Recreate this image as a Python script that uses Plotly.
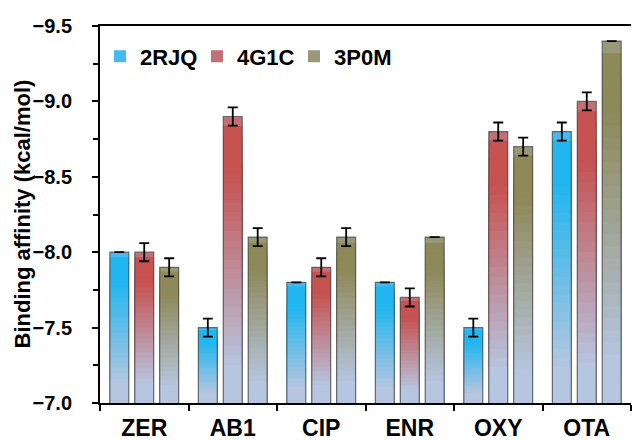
import plotly.graph_objects as go

categories = ["ZER", "AB1", "CIP", "ENR", "OXY", "OTA"]
series_names = ["2RJQ", "4G1C", "3P0M"]
vals_2rjq = [-8.0, -7.5, -7.8, -7.8, -7.5, -8.8]
vals_4g1c = [-8.0, -8.9, -7.9, -7.7, -8.8, -9.0]
vals_3p0m = [-7.9, -8.1, -8.1, -8.1, -8.7, -9.4]
err_2rjq = [0.0, 0.06, 0.0, 0.0, 0.06, 0.06]
err_4g1c = [0.06, 0.06, 0.06, 0.06, 0.06, 0.06]
err_3p0m = [0.06, 0.06, 0.06, 0.0, 0.06, 0.0]
y_title = "Binding affinity (kcal/mol)"

top_colors = [(33, 182, 240), (198, 82, 82), (142, 137, 88)]
bottom_color = (182, 198, 224)
BASE = -7.0
N_LAYERS = 30

series_vals = [vals_2rjq, vals_4g1c, vals_3p0m]
series_err = [err_2rjq, err_4g1c, err_3p0m]


def mix(c1, c2, t):
    return "rgb(%d,%d,%d)" % tuple(round(a + (b - a) * t) for a, b in zip(c1, c2))


fig = go.Figure()
font_family = "Liberation Sans, Arial, sans-serif"

for name, vals, errs, tc in zip(series_names, series_vals, series_err, top_colors):
    # gradient rendering layers (full bar first, then shorter, lighter ones on top)
    for k in range(N_LAYERS):
        f = 1 - k / N_LAYERS
        p = f - 0.5 / N_LAYERS
        s = min(1.0, max(0.0, (p - 0.12) / 0.68))
        col = mix(bottom_color, tc, s)
        fig.add_trace(go.Bar(
            x=categories,
            y=[BASE + (v - BASE) * f for v in vals],
            name=name,
            legendgroup=name,
            showlegend=(k == 0),
            offsetgroup=name,
            marker=dict(color=mix(bottom_color, tc, 0.75) if k == 0 else col, line=dict(width=0)),
            hoverinfo="skip",
        ))
    # outline + error bars
    fig.add_trace(go.Bar(
        x=categories,
        y=vals,
        name=name,
        legendgroup=name,
        showlegend=False,
        offsetgroup=name,
        marker=dict(color="rgba(0,0,0,0)", line=dict(color="rgba(70,70,70,0.75)", width=1.2)),
        error_y=dict(type="data", array=errs, visible=True, color="black", thickness=1.8, width=5),
    ))

fig.update_layout(
    width=632,
    height=440,
    margin=dict(l=100, r=1, t=26, b=37),
    barmode="group",
    bargap=0.155,
    bargroupgap=0.24,
    plot_bgcolor="white",
    paper_bgcolor="white",
    font=dict(family=font_family, color="black"),
    legend=dict(
        orientation="h",
        x=0.0, xanchor="left",
        y=0.919, yanchor="middle",
        font=dict(size=22, family=font_family, weight="bold"),
        itemwidth=30,
        entrywidth=52,
        bgcolor="rgba(0,0,0,0)",
        traceorder="normal",
    ),
    showlegend=True,
    annotations=[dict(
        text=y_title, textangle=-90,
        xref="paper", yref="paper", x=0, y=0.5, xshift=-78,
        xanchor="center", yanchor="middle", showarrow=False,
        font=dict(size=22, family=font_family, weight="bold", color="black"),
    )],
)

fig.update_xaxes(
    type="category",
    automargin=False,
    showline=True, linecolor="black", linewidth=2, mirror=True,
    ticks="outside", ticklen=6, tickwidth=2, tickcolor="black",
    tickson="boundaries",
    ticklabelstandoff=3,
    tickfont=dict(size=23, family=font_family, weight="bold"),
    showgrid=False,
)
fig.update_yaxes(
    range=[-7.0, -9.5],
    automargin=False,
    tick0=-9.5, dtick=0.5, tickformat=".1f",
    showline=True, linecolor="black", linewidth=2,
    ticks="outside", ticklen=6, tickwidth=2, tickcolor="black",
    minor=dict(dtick=0.25, ticks="outside", ticklen=5, tickwidth=2, tickcolor="black"),
    ticklabelstandoff=16,
    tickfont=dict(size=20, family=font_family, weight="bold"),
    showgrid=False,
    zeroline=False,
)

fig.write_html(
    "out.html",
    config={"displayModeBar": False},
    post_script="document.body.style.margin='0';document.body.style.overflow='hidden';",
)
